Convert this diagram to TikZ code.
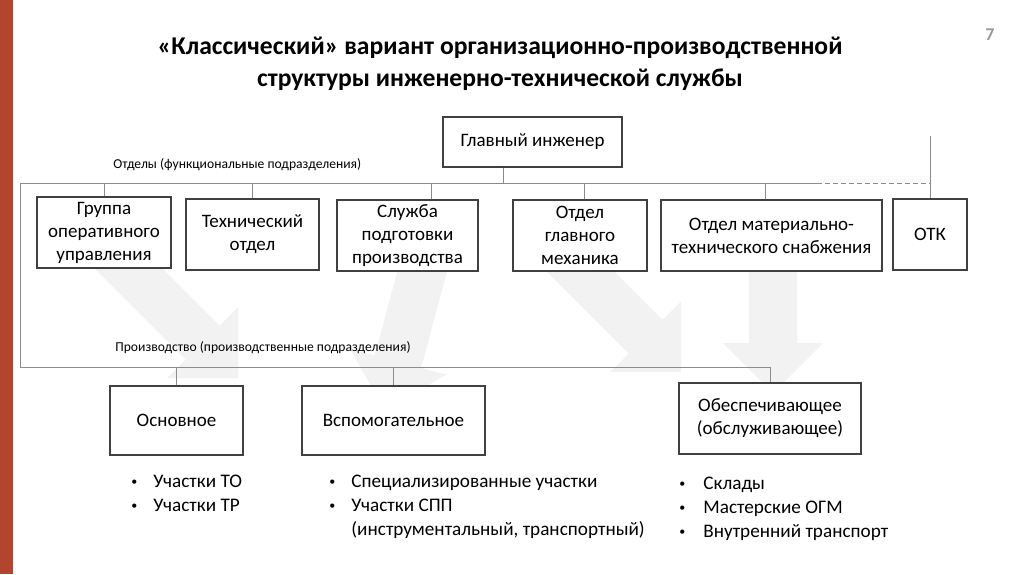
\documentclass[tikz,border=0pt]{standalone}
\usepackage{fontspec}
\setmainfont{Carlito}
\usetikzlibrary{calc}
\definecolor{brick}{HTML}{B3452E}
\definecolor{boxline}{HTML}{404040}
\definecolor{connline}{HTML}{8C8C8C}
\definecolor{arrowbg}{HTML}{F2F2F2}
\newcommand{\bul}{{\fontsize{6}{6}\selectfont\raisebox{0.6pt}{•}}}
\begin{document}
\begin{tikzpicture}[x=0.5pt,y=-0.5pt,
  orgbox/.style={draw=boxline, line width=0.65pt, fill=white, align=center, inner sep=0pt, font=\fontsize{9.5}{11.5}\selectfont},
  conn/.style={draw=connline, line width=0.5pt},
  bgarrow/.style={fill=arrowbg},
  note/.style={font=\fontsize{6.8}{7.5}\selectfont, anchor=west, inner sep=0pt},
  bullets/.style={font=\fontsize{9.6}{12}\selectfont, anchor=base west, inner sep=0pt}]

\useasboundingbox (0,0) rectangle (1024,574);
\fill[brick] (0,0) rectangle (13,574);

% faint arrows behind the chart
\foreach \tx/\ty/\ang/\len in {238/378/-45/181, 385/410/-105/160, 681/372/-45/171, 773/393/-90/138} {
  \begin{scope}[shift={(\tx,\ty)}, rotate=\ang]
    \fill[bgarrow] (0,0) -- (-50,-50) -- (-50,-24) -- (-\len,-24) -- (-\len,24) -- (-50,24) -- (-50,50) -- cycle;
  \end{scope}
}

\node[font=\bfseries\fontsize{12.8}{16}\selectfont, align=center] (title) at (500,64)
  {«Классический» вариант организационно-производственной\\структуры инженерно-технической службы};
\node[text=gray!80, font=\bfseries\fontsize{9}{10}\selectfont] (pagenum) at (990,35) {7};

% chief and departments
\node[orgbox, minimum width=89.5pt, minimum height=25pt] (chief) at (532.5,142) {Главный инженер};
\node[orgbox, minimum width=67pt, minimum height=35.5pt] (grp) at (104,232.5) {Группа\\оперативного\\управления};
\node[orgbox, minimum width=66.5pt, minimum height=35.5pt] (tech) at (252.5,234.5) {Технический\\отдел};
\node[orgbox, minimum width=70.5pt, minimum height=35.5pt] (sluzh) at (407.5,235.5) {Служба\\подготовки\\производства};
\node[orgbox, minimum width=67pt, minimum height=35.5pt] (ogm) at (580,235.5) {Отдел\\главного\\механика};
\node[orgbox, minimum width=110.5pt, minimum height=35.5pt] (omts) at (771.5,235.5) {Отдел материально-\\технического снабжения};
\node[orgbox, minimum width=37pt, minimum height=35.5pt] (otk) at (930,234.5) {ОТК};

% production units
\node[orgbox, minimum width=66.5pt, minimum height=34.5pt] (osn) at (176.5,420.5) {Основное};
\node[orgbox, minimum width=91.5pt, minimum height=34.5pt] (vsp) at (393.5,420.5) {Вспомогательное};
\node[orgbox, minimum width=91pt, minimum height=35.5pt] (obesp) at (770,418.5) {Обеспечивающее\\(обслуживающее)};

\node[note] (deptlbl) at (113,165) {Отделы (функциональные подразделения)};
\node[note] (prodlbl) at (115,348) {Производство (производственные подразделения)};

% connectors
\coordinate (topl) at (20,183);
\coordinate (dash) at (817,183);
\coordinate (botl) at (20,367);
\coordinate (otkup) at (930,136);
\coordinate (chief-out) at ($(chief.south west)!0.34!(chief.south east)$);
\draw[conn] (chief-out) -- (chief-out |- topl);
\foreach \n/\f in {grp/0.5, tech/0.5, sluzh/0.67, ogm/0.53, omts/0.475} {
  \coordinate (\n-in) at ($(\n.north west)!\f!(\n.north east)$);
  \draw[conn] (\n-in) -- (\n-in |- topl);
}
\draw[conn] (topl) -- (dash);
\draw[conn, dash pattern=on 2.5pt off 1.5pt] (dash) -- (otk.north |- topl);
\draw[conn] (otk.north) -- (otkup);
\draw[conn] (topl) -- (botl) -- (obesp.north |- botl) -- (obesp.north);
\foreach \n in {osn, vsp}
  \draw[conn] (\n.north) -- (\n.north |- botl);

% lists under the production units
\node[bullets] (osnlist) at (131,487) {\begin{tabular}[t]{@{}p{11pt}@{}l@{}}\bul & Участки ТО\\\bul & Участки ТР\end{tabular}};
\node[bullets] (vsplist) at (329,487) {\begin{tabular}[t]{@{}p{11pt}@{}l@{}}\bul & Специализированные участки\\\bul & Участки СПП\\ & (инструментальный, транспортный)\end{tabular}};
\node[bullets] (obesplist) at (679,489) {\begin{tabular}[t]{@{}p{12pt}@{}l@{}}\bul & Склады\\\bul & Мастерские ОГМ\\\bul & Внутренний транспорт\end{tabular}};
\end{tikzpicture}
\end{document}
